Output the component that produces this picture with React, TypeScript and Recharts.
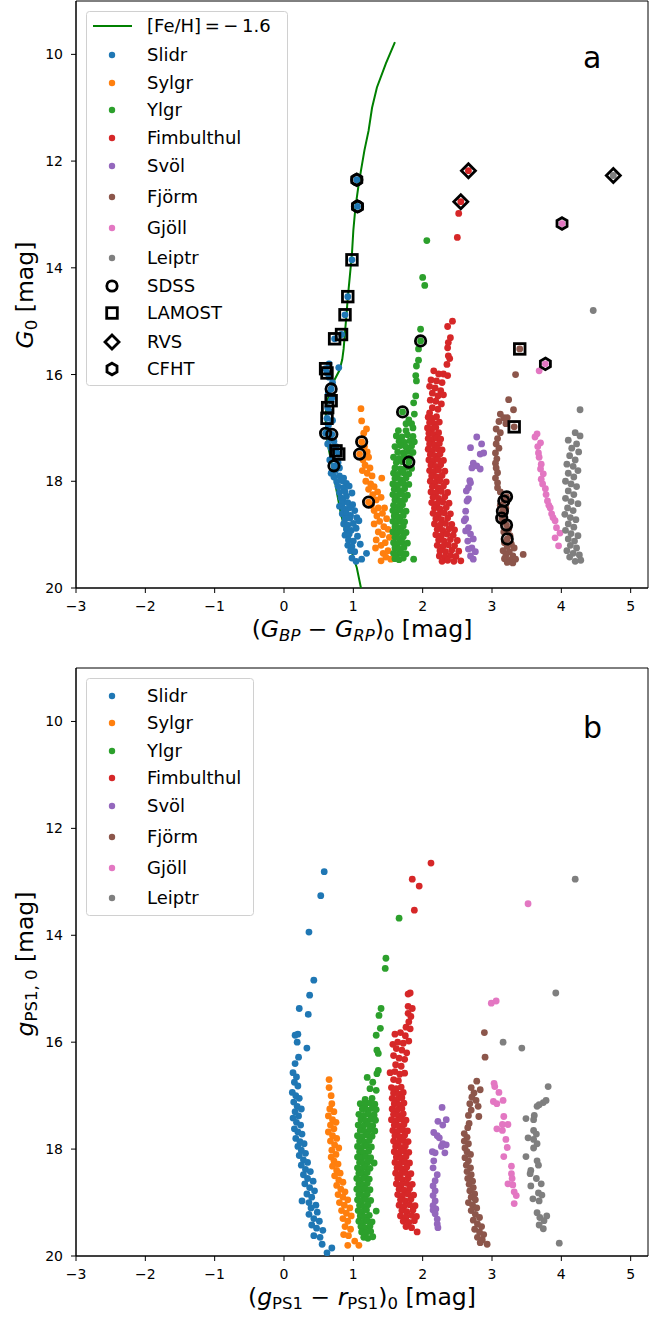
import { ScatterChart, Scatter, XAxis, YAxis, ReferenceArea, Legend } from "recharts";

type P = [number, number];
const pts = (a: P[]) => a.map(([x, y]) => ({ x, y }));

const FONT = "DejaVu Sans";
const streamNames = ["Slidr", "Sylgr", "Ylgr", "Fimbulthul", "Svöl", "Fjörm", "Gjöll", "Leiptr"];
const streamColors = ["#1f77b4", "#ff7f0e", "#2ca02c", "#d62728", "#9467bd", "#8c564b", "#e377c2", "#7f7f7f"];
const xTicks = [-3, -2, -1, 0, 1, 2, 3, 4, 5];
const yTicks = [10, 12, 14, 16, 18, 20];

// ---------- panel a: Gaia colours ----------
const isochrone: P[] = [
  [1.6, 9.77], [1.47, 10.17], [1.34, 10.62], [1.27, 11.0], [1.22, 11.43], [1.16, 11.8], [1.11, 12.18],
  [1.07, 12.5], [1.03, 12.87], [1.0, 13.3], [0.98, 13.74], [0.95, 14.15], [0.92, 14.56], [0.9, 14.9],
  [0.88, 15.2], [0.86, 15.52], [0.84, 15.72], [0.8, 15.92], [0.72, 16.12], [0.65, 16.36], [0.61, 16.6],
  [0.6, 16.85], [0.61, 17.05], [0.63, 17.3], [0.68, 17.62], [0.75, 18.12], [0.82, 18.61], [0.91, 19.06],
  [1.05, 19.62], [1.11, 20.0],
];

const slidrA: P[] = [
  [1.05, 12.35], [1.06, 12.85], [0.98, 13.85], [0.92, 14.54], [0.88, 14.88], [0.83, 15.25], [0.73, 15.33],
  [0.65, 15.8], [0.79, 15.87], [0.6, 15.89], [0.62, 15.97], [0.65, 16.05], [0.7, 16.15], [0.68, 16.27],
  [0.64, 16.35], [0.7, 16.42], [0.68, 16.49], [0.63, 16.62], [0.66, 16.7], [0.62, 16.82], [0.7, 16.86],
  [0.64, 16.95], [0.6, 17.1], [0.69, 17.12], [0.66, 17.2], [0.72, 17.25], [0.63, 17.3], [0.75, 17.35],
  [0.68, 17.38], [0.75, 17.43], [0.79, 17.49], [0.7, 17.55], [0.66, 17.6], [0.72, 17.71], [0.78, 17.65],
  [0.74, 17.8], [0.68, 17.85], [0.8, 17.75], [0.72, 17.92], [0.8, 17.9], [0.86, 17.94], [0.76, 18.01],
  [0.84, 17.99], [0.9, 18.04], [0.78, 18.1], [0.86, 18.12], [0.94, 18.09], [0.8, 18.21], [0.88, 18.19],
  [0.98, 18.22], [0.82, 18.31], [0.9, 18.28], [0.85, 18.36], [0.84, 18.42], [0.92, 18.4], [0.99, 18.44],
  [0.8, 18.47], [0.86, 18.52], [0.94, 18.5], [1.02, 18.55], [0.84, 18.61], [0.9, 18.6], [0.96, 18.64],
  [0.88, 18.71], [0.95, 18.69], [1.05, 18.68], [1.08, 18.74], [0.86, 18.8], [0.92, 18.82], [1.0, 18.79],
  [0.9, 18.9], [0.97, 18.92], [1.04, 18.88], [0.88, 19.01], [0.94, 18.99], [1.06, 19.03], [0.93, 19.1],
  [1.0, 19.12], [0.92, 19.2], [0.98, 19.22], [1.1, 19.18], [0.96, 19.3], [1.02, 19.32], [1.19, 19.35],
  [1.12, 19.46], [0.98, 19.44], [1.04, 19.5],
];

const sylgrA: P[] = [
  [1.11, 16.64], [1.12, 16.87], [1.19, 17.02], [1.15, 17.1], [1.12, 17.26], [1.09, 17.49], [1.16, 17.35],
  [1.2, 17.45], [1.14, 17.6], [1.22, 17.55], [1.17, 17.7], [1.24, 17.75], [1.13, 17.8], [1.2, 17.85],
  [1.27, 17.9], [1.41, 17.94], [1.18, 18.0], [1.25, 18.05], [1.3, 18.1], [1.22, 18.15], [1.35, 18.2],
  [1.28, 18.25], [1.22, 18.39], [1.33, 18.35], [1.4, 18.3], [1.26, 18.45], [1.36, 18.5], [1.3, 18.55],
  [1.45, 18.5], [1.42, 18.6], [1.34, 18.65], [1.48, 18.7], [1.38, 18.75], [1.3, 18.8], [1.44, 18.85],
  [1.5, 18.9], [1.36, 18.95], [1.42, 19.0], [1.52, 19.05], [1.33, 19.1], [1.46, 19.15], [1.4, 19.2],
  [1.32, 19.25], [1.5, 19.3], [1.43, 19.35], [1.4, 19.49], [1.54, 19.46], [1.47, 19.42],
];

const ylgrA: P[] = [
  [2.06, 13.49], [2.0, 14.18], [2.03, 14.33], [1.97, 15.15], [1.97, 15.37], [1.94, 15.52], [1.94, 15.73],
  [1.91, 15.84], [1.9, 16.02], [1.91, 16.12], [1.9, 16.4], [1.87, 16.53], [1.88, 16.74], [1.71, 16.7],
  [1.84, 16.92], [1.76, 16.92], [1.8, 16.85], [1.76, 17.05], [1.65, 17.05], [1.86, 17.0],
  [1.62, 17.15], [1.7, 17.17], [1.78, 17.13], [1.86, 17.16], [1.66, 17.25], [1.74, 17.27], [1.82, 17.24],
  [1.88, 17.26], [1.6, 17.35], [1.68, 17.33], [1.76, 17.36], [1.84, 17.34], [1.64, 17.45], [1.72, 17.47],
  [1.8, 17.44], [1.86, 17.46], [1.58, 17.55], [1.66, 17.57], [1.74, 17.54], [1.82, 17.56], [1.8, 17.64],
  [1.62, 17.65], [1.7, 17.63], [1.6, 17.75], [1.68, 17.77], [1.76, 17.74], [1.84, 17.76], [1.58, 17.85],
  [1.64, 17.87], [1.72, 17.84], [1.8, 17.86], [1.6, 17.95], [1.68, 17.97], [1.76, 17.94], [1.57, 18.05],
  [1.64, 18.07], [1.72, 18.04], [1.8, 18.06], [1.59, 18.15], [1.66, 18.17], [1.74, 18.14], [1.57, 18.25],
  [1.63, 18.27], [1.7, 18.24], [1.78, 18.26], [1.6, 18.35], [1.67, 18.37], [1.74, 18.34], [1.58, 18.45],
  [1.64, 18.47], [1.71, 18.44], [1.57, 18.55], [1.62, 18.57], [1.68, 18.54], [1.76, 18.56], [1.59, 18.65],
  [1.65, 18.67], [1.72, 18.64], [1.57, 18.75], [1.62, 18.77], [1.68, 18.74], [1.74, 18.76], [1.6, 18.85],
  [1.66, 18.87], [1.72, 18.84], [1.57, 18.95], [1.63, 18.97], [1.69, 18.94], [1.76, 18.96], [1.6, 19.05],
  [1.66, 19.07], [1.72, 19.04], [1.58, 19.15], [1.64, 19.17], [1.7, 19.14], [1.78, 19.16], [1.6, 19.25],
  [1.66, 19.27], [1.73, 19.24], [1.58, 19.35], [1.63, 19.37], [1.69, 19.34], [1.76, 19.36], [1.6, 19.45],
  [1.66, 19.47], [1.72, 19.44], [1.87, 19.46],
];

const fimbA: P[] = [
  [2.66, 12.18], [2.55, 12.76], [2.52, 12.98], [2.5, 13.43], [2.43, 15.0], [2.36, 15.1], [2.4, 15.31],
  [2.37, 15.4], [2.36, 15.5], [2.37, 15.65], [2.39, 15.7], [2.35, 15.81], [2.16, 15.93], [2.23, 15.99],
  [2.3, 15.99], [2.36, 16.02], [2.12, 16.1], [2.2, 16.12], [2.28, 16.15], [2.1, 16.22], [2.18, 16.25],
  [2.26, 16.3], [2.14, 16.35], [2.22, 16.4], [2.3, 16.38], [2.11, 16.48], [2.19, 16.5], [2.27, 16.55],
  [2.14, 16.62], [2.22, 16.65], [2.1, 16.72],
  [2.08, 16.8], [2.14, 16.82], [2.2, 16.79], [2.1, 16.9], [2.17, 16.92], [2.24, 16.89], [2.07, 17.0],
  [2.13, 17.02], [2.19, 16.99], [2.09, 17.1], [2.16, 17.12], [2.23, 17.09], [2.08, 17.2], [2.14, 17.22],
  [2.2, 17.19], [2.26, 17.21], [2.1, 17.3], [2.17, 17.32], [2.24, 17.29], [2.08, 17.4], [2.14, 17.42],
  [2.21, 17.39], [2.28, 17.41], [2.11, 17.5], [2.18, 17.52], [2.25, 17.49], [2.09, 17.6], [2.15, 17.62],
  [2.22, 17.59], [2.3, 17.61], [2.12, 17.7], [2.19, 17.72], [2.26, 17.69], [2.1, 17.8], [2.16, 17.82],
  [2.23, 17.79], [2.32, 17.81], [2.13, 17.9], [2.2, 17.92], [2.28, 17.89], [2.11, 18.0], [2.18, 18.02],
  [2.25, 17.99], [2.34, 18.01], [2.14, 18.1], [2.22, 18.12], [2.3, 18.09], [2.12, 18.2], [2.19, 18.22],
  [2.27, 18.19], [2.36, 18.21], [2.15, 18.3], [2.23, 18.32], [2.32, 18.29], [2.13, 18.4], [2.21, 18.42],
  [2.29, 18.39], [2.38, 18.41], [2.17, 18.5], [2.25, 18.52], [2.34, 18.49], [2.15, 18.6], [2.23, 18.62],
  [2.31, 18.59], [2.4, 18.61], [2.19, 18.7], [2.27, 18.72], [2.36, 18.69], [2.17, 18.8], [2.25, 18.82],
  [2.33, 18.79], [2.42, 18.81], [2.21, 18.9], [2.29, 18.92], [2.38, 18.89], [2.46, 18.91], [2.19, 19.0],
  [2.27, 19.02], [2.35, 18.99], [2.44, 19.01], [2.23, 19.1], [2.31, 19.12], [2.4, 19.09], [2.5, 19.11],
  [2.21, 19.2], [2.29, 19.22], [2.37, 19.19], [2.46, 19.21], [2.25, 19.3], [2.33, 19.32], [2.42, 19.29],
  [2.52, 19.31], [2.24, 19.4], [2.32, 19.42], [2.4, 19.39], [2.48, 19.41], [2.28, 19.5], [2.36, 19.48],
  [2.45, 19.5], [2.55, 19.49],
];

const svolA: P[] = [
  [2.78, 17.17], [2.69, 17.37], [2.85, 17.3], [2.83, 17.49], [2.88, 17.47], [2.73, 17.66], [2.71, 17.75],
  [2.78, 17.71], [2.83, 17.77], [2.68, 17.99], [2.69, 18.03], [2.66, 18.12], [2.63, 18.18], [2.66, 18.33],
  [2.64, 18.37], [2.62, 18.56], [2.62, 18.7], [2.6, 18.74], [2.66, 18.87], [2.62, 18.93], [2.69, 18.99],
  [2.73, 19.08], [2.65, 19.12], [2.71, 19.25], [2.66, 19.27], [2.76, 19.32], [2.69, 19.4], [2.73, 19.46],
];

const fjormA: P[] = [
  [3.4, 15.52], [3.34, 16.0], [3.24, 16.47], [3.31, 16.66], [3.12, 16.74], [3.17, 16.81], [3.22, 16.81],
  [3.1, 16.88], [3.2, 16.92], [3.32, 16.98], [3.06, 17.02], [3.12, 17.09], [3.08, 17.2], [3.06, 17.3],
  [3.1, 17.38], [3.05, 17.47], [3.07, 17.58], [3.05, 17.66], [3.06, 17.75], [3.08, 17.84], [3.05, 17.94],
  [3.08, 18.03], [3.08, 18.12], [3.12, 18.2], [3.21, 18.29], [3.17, 18.37], [3.12, 18.45], [3.15, 18.56],
  [3.2, 18.5], [3.14, 18.69], [3.18, 18.62], [3.21, 18.82], [3.16, 18.75], [3.24, 18.9], [3.17, 18.95],
  [3.22, 19.08], [3.26, 19.02], [3.18, 19.15], [3.28, 19.18], [3.22, 19.22], [3.32, 19.25], [3.16, 19.3],
  [3.25, 19.32], [3.2, 19.38], [3.3, 19.4], [3.45, 19.37], [3.18, 19.45], [3.26, 19.48], [3.34, 19.46],
  [3.22, 19.52], [3.3, 19.53],
];

const gjollA: P[] = [
  [4.01, 13.17], [3.77, 15.8], [3.68, 15.93], [3.65, 17.11], [3.62, 17.17], [3.7, 17.28], [3.66, 17.35],
  [3.67, 17.47], [3.68, 17.55], [3.71, 17.68], [3.7, 17.77], [3.74, 17.86], [3.71, 17.96], [3.73, 18.05],
  [3.77, 18.14], [3.78, 18.25], [3.8, 18.37], [3.82, 18.45], [3.84, 18.5], [3.86, 18.61], [3.88, 18.68],
  [3.91, 18.74], [3.93, 18.87], [3.98, 18.97], [3.91, 19.06], [3.96, 19.21],
];

const leiptrA: P[] = [
  [4.75, 12.27], [4.46, 14.8], [4.27, 16.66], [4.2, 17.09], [4.27, 17.15], [4.1, 17.23], [4.22, 17.3],
  [4.15, 17.38], [4.25, 17.45], [4.12, 17.52], [4.2, 17.6], [4.08, 17.68], [4.17, 17.72], [4.24, 17.8],
  [4.1, 17.85], [4.18, 17.92], [4.06, 18.0], [4.14, 18.05], [4.22, 18.1], [4.1, 18.18], [4.18, 18.25],
  [4.06, 18.32], [4.14, 18.38], [4.24, 18.42], [4.09, 18.5], [4.17, 18.55], [4.05, 18.62], [4.13, 18.68],
  [4.21, 18.72], [4.1, 18.8], [4.18, 18.86], [4.06, 18.92], [4.14, 18.98], [4.24, 19.02], [4.1, 19.08],
  [4.19, 19.12], [4.13, 19.2], [4.22, 19.25], [4.08, 19.3], [4.17, 19.35], [4.26, 19.38], [4.12, 19.42],
  [4.28, 19.48], [4.2, 19.5],
];

const sdssA: P[] = [
  [1.05, 12.35], [1.06, 12.85], [0.68, 16.27], [0.6, 17.1], [0.69, 17.12], [0.72, 17.71], [1.12, 17.26],
  [1.09, 17.49], [1.22, 18.39], [1.97, 15.37], [1.71, 16.7], [1.8, 17.64], [3.21, 18.29], [3.17, 18.37],
  [3.15, 18.56], [3.14, 18.69], [3.21, 18.82], [3.22, 19.08],
];
const lamostA: P[] = [
  [0.98, 13.85], [0.92, 14.54], [0.88, 14.88], [0.83, 15.25], [0.73, 15.33], [0.6, 15.89], [0.62, 15.97],
  [0.68, 16.49], [0.63, 16.62], [0.62, 16.82], [0.75, 17.43], [0.79, 17.49], [3.4, 15.52], [3.32, 16.98],
];
const rvsA: P[] = [[2.66, 12.18], [2.55, 12.76], [4.75, 12.27]];
const cfhtA: P[] = [[1.05, 12.35], [1.06, 12.85], [4.01, 13.17], [3.77, 15.8]];

// ---------- panel b: Pan-STARRS colours ----------
const slidrB: P[] = [
  [0.58, 12.81], [0.53, 13.26], [0.36, 13.94], [0.43, 14.84], [0.37, 15.12], [0.22, 15.37], [0.35, 15.48],
  [0.16, 15.87], [0.2, 15.85], [0.19, 16.0], [0.33, 16.11], [0.21, 16.28], [0.16, 16.4], [0.13, 16.57],
  [0.18, 16.65], [0.15, 16.75], [0.2, 16.82], [0.12, 16.94], [0.17, 17.0], [0.22, 17.05], [0.14, 17.12],
  [0.19, 17.2], [0.25, 17.25], [0.16, 17.3], [0.21, 17.38], [0.13, 17.42], [0.18, 17.5], [0.24, 17.55],
  [0.15, 17.62], [0.2, 17.68], [0.26, 17.72], [0.17, 17.8], [0.23, 17.86], [0.29, 17.9], [0.2, 17.95],
  [0.25, 18.02], [0.31, 18.08], [0.22, 18.12], [0.28, 18.2], [0.34, 18.25], [0.25, 18.3], [0.31, 18.38],
  [0.38, 18.42], [0.28, 18.48], [0.34, 18.55], [0.42, 18.6], [0.3, 18.65], [0.37, 18.72], [0.44, 18.78],
  [0.33, 18.84], [0.4, 18.9], [0.26, 18.97], [0.36, 19.0], [0.46, 19.05], [0.39, 19.1], [0.48, 19.18],
  [0.36, 19.22], [0.43, 19.3], [0.51, 19.35], [0.4, 19.42], [0.47, 19.48], [0.56, 19.52], [0.43, 19.62],
  [0.52, 19.65], [0.55, 19.78], [0.69, 19.85], [0.62, 19.94],
];

const sylgrB: P[] = [
  [0.65, 16.7], [0.65, 16.85], [0.68, 17.0], [0.69, 17.15], [0.66, 17.25], [0.72, 17.3], [0.64, 17.38],
  [0.7, 17.45], [0.75, 17.5], [0.67, 17.55], [0.72, 17.62], [0.64, 17.68], [0.7, 17.75], [0.76, 17.8],
  [0.67, 17.85], [0.73, 17.92], [0.79, 17.98], [0.69, 18.02], [0.75, 18.1], [0.68, 18.15], [0.72, 18.22],
  [0.78, 18.28], [0.7, 18.32], [0.76, 18.4], [0.81, 18.45], [0.73, 18.5], [0.79, 18.58], [0.85, 18.62],
  [0.76, 18.68], [0.82, 18.75], [0.88, 18.8], [0.78, 18.85], [0.85, 18.9], [0.92, 18.95], [0.8, 19.0],
  [0.87, 19.05], [0.95, 19.1], [0.83, 19.15], [0.9, 19.2], [0.97, 19.25], [0.85, 19.3], [0.92, 19.35],
  [0.88, 19.45], [0.96, 19.5], [0.86, 19.6], [0.93, 19.62], [0.92, 19.8], [1.02, 19.72], [1.08, 19.8],
];

const ylgrB: P[] = [
  [1.66, 13.68], [1.47, 14.43], [1.46, 14.62], [1.4, 15.37], [1.37, 15.5], [1.39, 15.74], [1.33, 15.87],
  [1.34, 16.15], [1.36, 16.21], [1.36, 16.53], [1.34, 16.59], [1.2, 16.66], [1.28, 16.75], [1.24, 16.87],
  [1.33, 16.9], [1.17, 17.07], [1.27, 17.05],
  [1.1, 17.15], [1.17, 17.17], [1.24, 17.14], [1.31, 17.16], [1.13, 17.25], [1.2, 17.27], [1.27, 17.24],
  [1.33, 17.26], [1.08, 17.35], [1.15, 17.37], [1.22, 17.34], [1.3, 17.36], [1.11, 17.45], [1.18, 17.47],
  [1.25, 17.44], [1.32, 17.46], [1.07, 17.55], [1.14, 17.57], [1.21, 17.54], [1.28, 17.56], [1.1, 17.65],
  [1.17, 17.67], [1.24, 17.64], [1.31, 17.66], [1.06, 17.75], [1.13, 17.77], [1.2, 17.74], [1.27, 17.76],
  [1.09, 17.85], [1.16, 17.87], [1.23, 17.84], [1.06, 17.95], [1.12, 17.97], [1.19, 17.94], [1.26, 17.96],
  [1.09, 18.05], [1.15, 18.07], [1.22, 18.04], [1.06, 18.15], [1.12, 18.17], [1.18, 18.14], [1.25, 18.16],
  [1.3, 18.26], [1.09, 18.25], [1.15, 18.27], [1.21, 18.24], [1.06, 18.35], [1.12, 18.37], [1.18, 18.34],
  [1.24, 18.36], [1.08, 18.45], [1.14, 18.47], [1.2, 18.44], [1.05, 18.55], [1.11, 18.57], [1.17, 18.54],
  [1.23, 18.56], [1.08, 18.65], [1.14, 18.67], [1.2, 18.64], [1.05, 18.75], [1.11, 18.77], [1.17, 18.74],
  [1.24, 18.76], [1.08, 18.85], [1.14, 18.87], [1.2, 18.84], [1.06, 18.95], [1.12, 18.97], [1.18, 18.94],
  [1.25, 18.96], [1.09, 19.05], [1.15, 19.07], [1.21, 19.04], [1.33, 19.16], [1.07, 19.15], [1.13, 19.17],
  [1.19, 19.14], [1.1, 19.25], [1.16, 19.27], [1.23, 19.24], [1.08, 19.35], [1.14, 19.37], [1.2, 19.34],
  [1.27, 19.36], [1.11, 19.45], [1.17, 19.47], [1.24, 19.44], [1.12, 19.55], [1.18, 19.57], [1.25, 19.54],
  [1.15, 19.65], [1.21, 19.67], [1.28, 19.64],
];

const fimbB: P[] = [
  [2.12, 12.65], [1.85, 12.95], [1.95, 13.08], [1.88, 13.53], [1.82, 15.08], [1.79, 15.1], [1.79, 15.33],
  [1.85, 15.37], [1.79, 15.46], [1.83, 15.52], [1.8, 15.62], [1.76, 15.72], [1.82, 15.75], [1.6, 15.85],
  [1.68, 15.82], [1.75, 15.88], [1.57, 16.04], [1.64, 16.0], [1.72, 16.02], [1.8, 15.98], [1.62, 16.12],
  [1.7, 16.15], [1.77, 16.2], [1.58, 16.25], [1.66, 16.3], [1.74, 16.32], [1.61, 16.42], [1.69, 16.45],
  [1.53, 16.57], [1.6, 16.55], [1.67, 16.6], [1.74, 16.58], [1.58, 16.7], [1.65, 16.72],
  [1.55, 16.85], [1.62, 16.87], [1.69, 16.84], [1.58, 16.95], [1.65, 16.97], [1.72, 16.94], [1.56, 17.05],
  [1.63, 17.07], [1.7, 17.04], [1.59, 17.15], [1.66, 17.17], [1.73, 17.14], [1.56, 17.25], [1.63, 17.27],
  [1.7, 17.24], [1.58, 17.35], [1.65, 17.37], [1.72, 17.34], [1.55, 17.45], [1.62, 17.47], [1.69, 17.44],
  [1.76, 17.46], [1.59, 17.55], [1.66, 17.57], [1.73, 17.54], [1.57, 17.65], [1.64, 17.67], [1.71, 17.64],
  [1.78, 17.66], [1.6, 17.75], [1.67, 17.77], [1.74, 17.74], [1.58, 17.85], [1.65, 17.87], [1.72, 17.84],
  [1.79, 17.86], [1.61, 17.95], [1.68, 17.97], [1.75, 17.94], [1.59, 18.05], [1.66, 18.07], [1.73, 18.04],
  [1.8, 18.06], [1.62, 18.15], [1.69, 18.17], [1.76, 18.14], [1.6, 18.25], [1.67, 18.27], [1.74, 18.24],
  [1.81, 18.26], [1.63, 18.35], [1.7, 18.37], [1.77, 18.34], [1.61, 18.45], [1.68, 18.47], [1.75, 18.44],
  [1.83, 18.46], [1.64, 18.55], [1.71, 18.57], [1.79, 18.54], [1.62, 18.65], [1.69, 18.67], [1.77, 18.64],
  [1.85, 18.66], [1.66, 18.75], [1.73, 18.77], [1.81, 18.74], [1.64, 18.85], [1.71, 18.87], [1.79, 18.84],
  [1.87, 18.86], [1.68, 18.95], [1.75, 18.97], [1.83, 18.94], [1.66, 19.05], [1.73, 19.07], [1.81, 19.04],
  [1.89, 19.06], [1.7, 19.15], [1.77, 19.17], [1.86, 19.14], [1.68, 19.25], [1.76, 19.27], [1.84, 19.24],
  [1.91, 19.26], [1.72, 19.35], [1.8, 19.37], [1.88, 19.34], [1.76, 19.45], [1.84, 19.47], [1.92, 19.55],
];

const svolB: P[] = [
  [2.28, 17.22], [2.22, 17.48], [2.34, 17.45], [2.29, 17.55], [2.16, 17.69], [2.21, 17.75], [2.24, 17.79],
  [2.29, 17.9], [2.27, 17.95], [2.34, 17.92], [2.14, 18.05], [2.18, 18.07], [2.32, 18.07], [2.16, 18.22],
  [2.15, 18.35], [2.21, 18.48], [2.18, 18.59], [2.15, 18.69], [2.18, 18.78], [2.15, 18.87], [2.18, 18.97],
  [2.15, 19.06], [2.19, 19.12], [2.15, 19.14], [2.18, 19.21], [2.21, 19.31], [2.21, 19.4], [2.22, 19.47],
];

const fjormB: P[] = [
  [2.89, 15.82], [2.9, 16.28], [2.78, 16.73], [2.7, 16.85], [2.83, 16.89], [2.74, 16.95], [2.71, 17.03],
  [2.77, 17.09], [2.68, 17.15], [2.8, 17.2], [2.7, 17.27], [2.66, 17.37], [2.81, 17.39], [2.67, 17.52],
  [2.65, 17.6], [2.6, 17.71], [2.64, 17.78], [2.6, 17.85], [2.66, 17.9], [2.61, 17.98], [2.64, 18.05],
  [2.69, 18.1], [2.61, 18.16], [2.66, 18.22], [2.63, 18.3], [2.69, 18.35], [2.64, 18.42], [2.7, 18.48],
  [2.65, 18.55], [2.72, 18.6], [2.67, 18.66], [2.73, 18.72], [2.68, 18.78], [2.75, 18.84], [2.7, 18.9],
  [2.76, 18.95], [2.66, 19.0], [2.72, 19.05], [2.78, 19.1], [2.7, 19.15], [2.76, 19.22], [2.82, 19.28],
  [2.73, 19.33], [2.79, 19.4], [2.85, 19.45], [2.75, 19.5], [2.82, 19.55], [2.88, 19.6], [2.79, 19.65],
  [2.86, 19.7], [2.83, 19.75], [2.93, 19.78],
];

const gjollB: P[] = [
  [3.52, 13.41], [2.99, 15.27], [3.06, 15.23], [3.03, 16.77], [3.04, 16.83], [3.1, 16.94], [3.02, 17.11],
  [3.07, 17.15], [3.16, 17.09], [3.17, 17.39], [3.15, 17.54], [3.23, 17.54], [3.07, 17.62], [3.15, 17.65],
  [3.2, 17.82], [3.22, 17.97], [3.17, 18.14], [3.28, 18.32], [3.28, 18.46], [3.29, 18.55], [3.23, 18.65],
  [3.3, 18.67], [3.32, 18.8], [3.35, 18.87], [3.32, 19.02],
];

const leiptrB: P[] = [
  [4.2, 12.95], [3.92, 15.08], [3.16, 16.0], [3.43, 16.11], [3.81, 16.83], [3.78, 17.09], [3.74, 17.13],
  [3.68, 17.17], [3.65, 17.2], [3.49, 17.43], [3.61, 17.37], [3.6, 17.45], [3.52, 17.79], [3.6, 17.65],
  [3.64, 17.72], [3.6, 17.82], [3.65, 17.9], [3.6, 17.98], [3.49, 18.14], [3.65, 18.22], [3.67, 18.3],
  [3.56, 18.4], [3.55, 18.46], [3.64, 18.55], [3.71, 18.65], [3.56, 18.69], [3.67, 18.82], [3.72, 18.86],
  [3.59, 18.93], [3.68, 18.97], [3.65, 19.19], [3.69, 19.28], [3.79, 19.25], [3.75, 19.34], [3.68, 19.42],
  [3.74, 19.49], [3.97, 19.76],
];

const seriesA = [slidrA, sylgrA, ylgrA, fimbA, svolA, fjormA, gjollA, leiptrA];
const seriesB = [slidrB, sylgrB, ylgrB, fimbB, svolB, fjormB, gjollB, leiptrB];

// ---------- marker shapes ----------
const dot = (color: string) => (p: any) => <circle cx={p.cx} cy={p.cy} r={3.4} fill={color} />;
const ringShape = (p: any) => <circle cx={p.cx} cy={p.cy} r={5.2} fill="none" stroke="#000" strokeWidth={2.8} />;
const squareShape = (p: any) => (
  <rect x={p.cx - 5.3} y={p.cy - 5.3} width={10.6} height={10.6} fill="none" stroke="#000" strokeWidth={2.8} />
);
const diamondShape = (p: any) => (
  <polygon
    points={`${p.cx},${p.cy - 7} ${p.cx + 7},${p.cy} ${p.cx},${p.cy + 7} ${p.cx - 7},${p.cy}`}
    fill="none"
    stroke="#000"
    strokeWidth={2.8}
  />
);
const hexPoints = (cx: number, cy: number, r: number) =>
  [0, 1, 2, 3, 4, 5]
    .map((i) => {
      const a = (Math.PI / 3) * i - Math.PI / 2;
      return `${cx + r * Math.cos(a)},${cy + r * Math.sin(a)}`;
    })
    .join(" ");
const hexShape = (p: any) => <polygon points={hexPoints(p.cx, p.cy, 5.8)} fill="none" stroke="#000" strokeWidth={2.8} />;
const noShape = () => <g />;

const fmt = (v: number) => (v < 0 ? `\u2212${-v}` : `${v}`);
const tickStyle = { fill: "#000", fontSize: 14, fontFamily: FONT };

// ---------- legend ----------
type Row = { label: string; y: number; kind: string; color?: string };

function LegendBox({ w, h, rows }: { w: number; h: number; rows: Row[] }) {
  return (
    <svg width={w} height={h} style={{ display: "block" }}>
      <rect x={0.5} y={0.5} width={w - 1} height={h - 1} rx={3} fill="#fff" fillOpacity={0.8} stroke="#d0d0d0" />
      {rows.map((r) => {
        const mx = 26;
        let m: any = null;
        if (r.kind === "line") m = <line x1={7} x2={46} y1={r.y} y2={r.y} stroke="#008000" strokeWidth={2} />;
        else if (r.kind === "dot") m = <circle cx={mx} cy={r.y} r={3.2} fill={r.color} />;
        else if (r.kind === "ring") m = ringShape({ cx: mx, cy: r.y });
        else if (r.kind === "square") m = squareShape({ cx: mx, cy: r.y });
        else if (r.kind === "diamond") m = diamondShape({ cx: mx, cy: r.y });
        else if (r.kind === "hex") m = hexShape({ cx: mx, cy: r.y });
        return (
          <g key={r.label}>
            {m}
            <text x={61} y={r.y + 6} fontSize={18} fontFamily={FONT} fill="#000">
              {r.kind === "line" ? (
                <>
                  [Fe/H]<tspan>{"\u2009=\u2009\u2212\u20091.6"}</tspan>
                </>
              ) : (
                r.label
              )}
            </text>
          </g>
        );
      })}
    </svg>
  );
}

const streamRowsA = [44, 72, 99, 127, 155, 186, 217, 247];
const rowsA: Row[] = [
  { label: "feh", y: 15, kind: "line" },
  ...streamNames.map((n, i) => ({ label: n, y: streamRowsA[i], kind: "dot", color: streamColors[i] })),
  { label: "SDSS", y: 275, kind: "ring" },
  { label: "LAMOST", y: 302, kind: "square" },
  { label: "RVS", y: 331, kind: "diamond" },
  { label: "CFHT", y: 358, kind: "hex" },
];
const streamRowsB = [18, 45, 73, 100, 128, 159, 190, 220];
const rowsB: Row[] = streamNames.map((n, i) => ({ label: n, y: streamRowsB[i], kind: "dot", color: streamColors[i] }));

// ---------- titles ----------
const SUB = 16.5;
const TITLE = 23.5;

const XTitleA = () => (
  <text x={362} y={637} textAnchor="middle" fontSize={TITLE} fontFamily={FONT} fill="#000">
    (<tspan fontStyle="italic">G</tspan>
    <tspan fontStyle="italic" fontSize={SUB} dy={4}>BP</tspan>
    <tspan dy={-4}>{" \u2212 "}</tspan>
    <tspan fontStyle="italic">G</tspan>
    <tspan fontStyle="italic" fontSize={SUB} dy={4}>RP</tspan>
    <tspan dy={-4}>)</tspan>
    <tspan fontSize={SUB} dy={4}>0</tspan>
    <tspan dy={-4}>{" [mag]"}</tspan>
  </text>
);
const XTitleB = () => (
  <text x={362} y={645} textAnchor="middle" fontSize={TITLE} fontFamily={FONT} fill="#000">
    (<tspan fontStyle="italic">g</tspan>
    <tspan fontSize={SUB} dy={4}>PS1</tspan>
    <tspan dy={-4}>{" \u2212 "}</tspan>
    <tspan fontStyle="italic">r</tspan>
    <tspan fontSize={SUB} dy={4}>PS1</tspan>
    <tspan dy={-4}>)</tspan>
    <tspan fontSize={SUB} dy={4}>0</tspan>
    <tspan dy={-4}>{" [mag]"}</tspan>
  </text>
);
const YTitleA = () => (
  <text x={33} y={295} transform="rotate(-90 33 295)" textAnchor="middle" fontSize={TITLE} fontFamily={FONT} fill="#000">
    <tspan fontStyle="italic">G</tspan>
    <tspan fontSize={SUB} dy={4}>0</tspan>
    <tspan dy={-4}>{" [mag]"}</tspan>
  </text>
);
const YTitleB = () => (
  <text x={33} y={304} transform="rotate(-90 33 304)" textAnchor="middle" fontSize={TITLE} fontFamily={FONT} fill="#000">
    <tspan fontStyle="italic">g</tspan>
    <tspan fontSize={SUB} dy={4}>PS1, 0</tspan>
    <tspan dy={-4}>{" [mag]"}</tspan>
  </text>
);
const Letter = ({ t, ly }: { t: string; ly: number }) => (
  <text x={583} y={ly} fontSize={30} fontFamily={FONT} fill="#000">
    {t}
  </text>
);

function Panel(props: {
  height: number;
  top: number;
  bottom: number;
  series: P[][];
  extra?: boolean;
  rows: Row[];
  legend: { left: number; top: number; w: number; h: number };
  xTitle: any;
  yTitle: any;
  letter: string;
  letterY: number;
}) {
  const { height, top, bottom, series, extra, rows, legend } = props;
  return (
    <ScatterChart width={668} height={height} margin={{ top, right: 20, bottom, left: 0 }}>
      <XAxis
        type="number"
        dataKey="x"
        domain={[-3, 5.25]}
        allowDataOverflow
        ticks={xTicks}
        tickFormatter={fmt}
        tick={tickStyle}
        tickSize={5}
        tickMargin={8}
        height={30}
        stroke="#000"
        label={props.xTitle}
      />
      <YAxis
        type="number"
        dataKey="y"
        domain={[9, 20]}
        reversed
        allowDataOverflow
        ticks={yTicks}
        tick={tickStyle}
        tickSize={5}
        tickMargin={8}
        width={76}
        stroke="#000"
        label={props.yTitle}
      />
      <ReferenceArea
        x1={-3}
        x2={5.25}
        y1={9}
        y2={20}
        fill="none"
        stroke="#000"
        strokeWidth={1}
        label={<Letter t={props.letter} ly={props.letterY} />}
      />
      {extra && (
        <Scatter
          data={pts(isochrone)}
          line={{ stroke: "#008000", strokeWidth: 2 }}
          shape={noShape}
          isAnimationActive={false}
        />
      )}
      {series.map((s, i) => (
        <Scatter key={streamNames[i]} name={streamNames[i]} data={pts(s)} shape={dot(streamColors[i])} isAnimationActive={false} />
      ))}
      {extra && <Scatter name="SDSS" data={pts(sdssA)} shape={ringShape} isAnimationActive={false} />}
      {extra && <Scatter name="LAMOST" data={pts(lamostA)} shape={squareShape} isAnimationActive={false} />}
      {extra && <Scatter name="RVS" data={pts(rvsA)} shape={diamondShape} isAnimationActive={false} />}
      {extra && <Scatter name="CFHT" data={pts(cfhtA)} shape={hexShape} isAnimationActive={false} />}
      <Legend
        layout="vertical"
        align="center"
        verticalAlign="middle"
        wrapperStyle={{ position: "absolute", left: legend.left, top: legend.top, width: legend.w, height: legend.h }}
        content={() => <LegendBox w={legend.w} h={legend.h} rows={rows} />}
      />
    </ScatterChart>
  );
}

export default function App() {
  return (
    <div style={{ position: "absolute", left: 0, top: 0, width: 668, height: 1317, background: "#fff" }}>
      <div style={{ position: "absolute", left: 0, top: 0 }}>
        <Panel
          height={660}
          top={1}
          bottom={42}
          series={seriesA}
          extra
          rows={rowsA}
          legend={{ left: 86, top: 11, w: 202, h: 375 }}
          xTitle={<XTitleA />}
          yTitle={<YTitleA />}
          letter="a"
          letterY={68}
        />
      </div>
      <div style={{ position: "absolute", left: 0, top: 660 }}>
        <Panel
          height={657}
          top={8}
          bottom={31}
          series={seriesB}
          rows={rowsB}
          legend={{ left: 86, top: 18, w: 168, h: 238 }}
          xTitle={<XTitleB />}
          yTitle={<YTitleB />}
          letter="b"
          letterY={78}
        />
      </div>
    </div>
  );
}
